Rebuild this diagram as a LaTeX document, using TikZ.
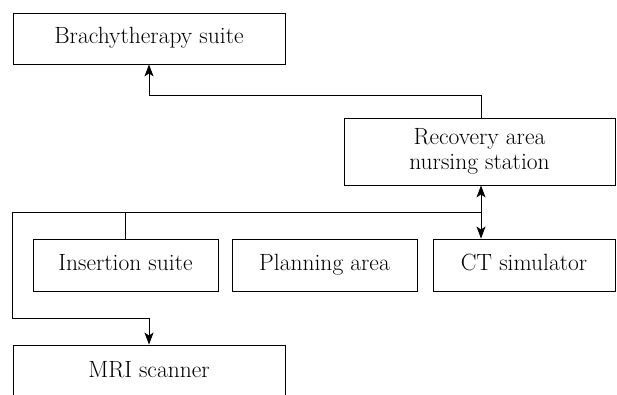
\documentclass[tikz,border=0pt]{standalone}
\usetikzlibrary{arrows.meta}
\begin{document}
\begin{tikzpicture}[x=1pt,y=-1pt,
  box/.style={draw,line width=0.9pt,rectangle,inner sep=0pt,align=center,
    font=\fontsize{23.5}{25}\selectfont},
  one/.style={text height=15pt,text depth=5pt},
  conn/.style={line width=0.9pt},
  arr/.style={conn,-{Stealth[length=12pt,width=9pt,inset=3pt]}},
  darr/.style={conn,{Stealth[length=12pt,width=9pt,inset=3pt]}-{Stealth[length=12pt,width=9pt,inset=3pt]}}]
\useasboundingbox (0,0) rectangle (617,394);
\clip (0,0) rectangle (617,394);
\node[box,one,minimum width=272pt,minimum height=51pt] (brachy) at (149,38.5) {Brachytherapy suite};
\node[box,minimum width=271pt,minimum height=67pt] (recov) at (479.5,151.5) {Recovery area\\nursing station};
\node[box,one,minimum width=185pt,minimum height=52pt] (ins) at (125.5,265) {Insertion suite};
\node[box,one,minimum width=185pt,minimum height=52pt] (plan) at (324.5,265) {Planning area};
\node[box,one,minimum width=182pt,minimum height=52pt] (ct) at (524,265) {CT simulator};
\node[box,minimum width=272pt,minimum height=54pt] (mri) at (149,372) {\strut MRI scanner};
\coordinate (j1) at (481,95);
\coordinate (j2) at (481,212);
\coordinate (j3) at (12,212);
\coordinate (j4) at (12,318);
\draw[arr] (recov.north -| j1) -- (j1) -| (brachy.south);
\draw[darr] (recov.south -| j1) -- (ct.north -| j1);
\draw[arr] (j2) -- (j3) -- (j4) -| (mri.north);
\draw[conn] (ins.north) -- (ins.north |- j2);
\end{tikzpicture}
\end{document}
